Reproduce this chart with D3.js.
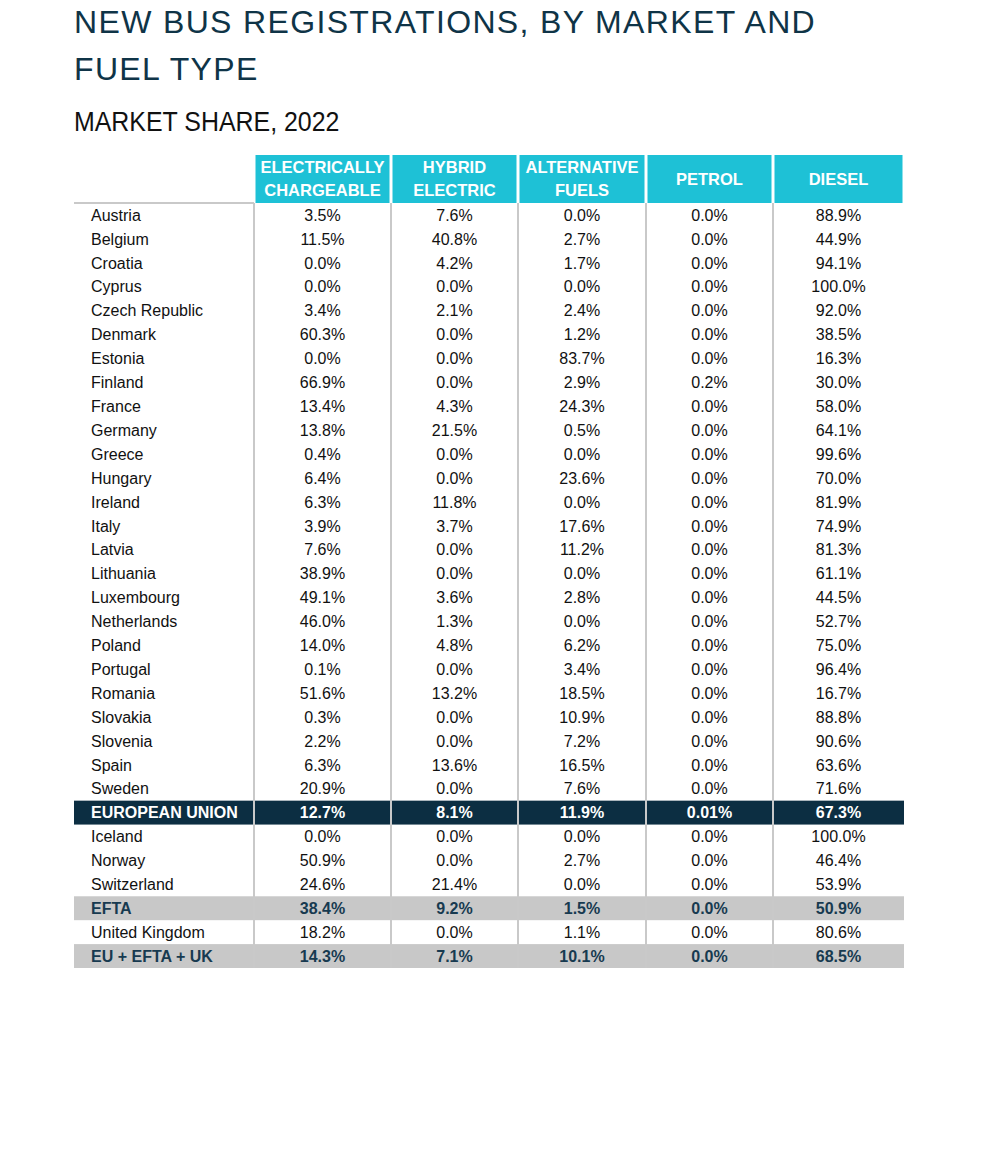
<!DOCTYPE html>
<html>
<head>
<meta charset="utf-8">
<script src="https://cdn.jsdelivr.net/npm/d3@7"></script>
<style>
  body { margin: 0; background: #fff; }
  svg { display: block; font-family: "Liberation Sans", Arial, sans-serif; }
</style>
</head>
<body>
<svg width="997" height="1167"></svg>
<script>
// table data (percent market share)
const markets = ["Austria", "Belgium", "Croatia", "Cyprus", "Czech Republic", "Denmark", "Estonia",
  "Finland", "France", "Germany", "Greece", "Hungary", "Ireland", "Italy", "Latvia", "Lithuania",
  "Luxembourg", "Netherlands", "Poland", "Portugal", "Romania", "Slovakia", "Slovenia", "Spain",
  "Sweden", "EUROPEAN UNION", "Iceland", "Norway", "Switzerland", "EFTA", "United Kingdom",
  "EU + EFTA + UK"];
const fuelHeaders = [["ELECTRICALLY", "CHARGEABLE"], ["HYBRID", "ELECTRIC"], ["ALTERNATIVE", "FUELS"],
  ["PETROL"], ["DIESEL"]];
const electric = [3.5, 11.5, 0.0, 0.0, 3.4, 60.3, 0.0, 66.9, 13.4, 13.8, 0.4, 6.4, 6.3, 3.9, 7.6, 38.9,
  49.1, 46.0, 14.0, 0.1, 51.6, 0.3, 2.2, 6.3, 20.9, 12.7, 0.0, 50.9, 24.6, 38.4, 18.2, 14.3];
const hybrid = [7.6, 40.8, 4.2, 0.0, 2.1, 0.0, 0.0, 0.0, 4.3, 21.5, 0.0, 0.0, 11.8, 3.7, 0.0, 0.0,
  3.6, 1.3, 4.8, 0.0, 13.2, 0.0, 0.0, 13.6, 0.0, 8.1, 0.0, 0.0, 21.4, 9.2, 0.0, 7.1];
const alternative = [0.0, 2.7, 1.7, 0.0, 2.4, 1.2, 83.7, 2.9, 24.3, 0.5, 0.0, 23.6, 0.0, 17.6, 11.2, 0.0,
  2.8, 0.0, 6.2, 3.4, 18.5, 10.9, 7.2, 16.5, 7.6, 11.9, 0.0, 2.7, 0.0, 1.5, 1.1, 10.1];
const petrol = [0.0, 0.0, 0.0, 0.0, 0.0, 0.0, 0.0, 0.2, 0.0, 0.0, 0.0, 0.0, 0.0, 0.0, 0.0, 0.0,
  0.0, 0.0, 0.0, 0.0, 0.0, 0.0, 0.0, 0.0, 0.0, 0.01, 0.0, 0.0, 0.0, 0.0, 0.0, 0.0];
const diesel = [88.9, 44.9, 94.1, 100.0, 92.0, 38.5, 16.3, 30.0, 58.0, 64.1, 99.6, 70.0, 81.9, 74.9, 81.3, 61.1,
  44.5, 52.7, 75.0, 96.4, 16.7, 88.8, 90.6, 63.6, 71.6, 67.3, 100.0, 46.4, 53.9, 50.9, 80.6, 68.5];
const darkTotals = ["EUROPEAN UNION"];
const greyTotals = ["EFTA", "EU + EFTA + UK"];

const series = [electric, hybrid, alternative, petrol, diesel];

const svg = d3.select("svg");
const navy = "#0c2e42", cyan = "#1ec1d6", grid = "#c9c9c9", greyRow = "#c8c8c8";

const tableLeft = 74, tableRight = 904, headTop = 155, headBottom = 203, tableBottom = 968;

// column edges are not all the same width, so map column index -> x
const xEdge = d3.scaleLinear().domain([0, 1, 2, 3, 4, 5]).range([254, 391, 518, 646, 773, 904]);
const y = d3.scaleBand().domain(markets).range([headBottom, tableBottom]);
const fmt = v => (v > 0 && v < 0.1 ? d3.format(".2f")(v) : d3.format(".1f")(v)) + "%";

// titles
svg.append("g").attr("fill", "#0f3447").style("font-size", "32px").style("letter-spacing", "1.35px")
  .selectAll("text").data(["NEW BUS REGISTRATIONS, BY MARKET AND", "FUEL TYPE"]).join("text")
  .attr("x", 74).attr("y", (d, i) => 33 + i * 47).text(d => d);

// no narrow face installed, so squeeze the regular one
svg.append("text").attr("transform", "translate(74,131) scale(0.89,1)")
  .style("font-size", "28px").attr("fill", "#111")
  .text("MARKET SHARE, 2022");

// header cells
const head = svg.append("g");
head.selectAll("rect").data(fuelHeaders).join("rect")
  .attr("x", (d, i) => xEdge(i) + 1.5)
  .attr("y", headTop)
  .attr("width", (d, i) => xEdge(i + 1) - xEdge(i) - 3)
  .attr("height", headBottom - headTop)
  .attr("fill", cyan);

head.selectAll("text").data(fuelHeaders).join("text")
  .attr("x", (d, i) => (xEdge(i) + xEdge(i + 1)) / 2)
  .attr("text-anchor", "middle")
  .attr("fill", "#fff").style("font-weight", "bold").style("font-size", "16.5px")
  .each(function(d) {
    const t = d3.select(this);
    const first = d.length === 1 ? 185 : 173;
    d.forEach((line, j) => t.append("tspan").attr("x", t.attr("x")).attr("y", first + j * 23).text(line));
  });

svg.append("line")
  .attr("x1", tableLeft).attr("x2", xEdge(0))
  .attr("y1", headBottom).attr("y2", headBottom)
  .attr("stroke", grid).attr("stroke-width", 2);

// total row backgrounds
svg.append("g").selectAll("rect")
  .data(markets.filter(m => darkTotals.includes(m) || greyTotals.includes(m)))
  .join("rect")
  .attr("x", tableLeft).attr("width", tableRight - tableLeft)
  .attr("y", d => y(d)).attr("height", y.bandwidth())
  .attr("fill", d => darkTotals.includes(d) ? navy : greyRow);

// column separators
svg.append("g").selectAll("line").data([0, 1, 2, 3, 4]).join("line")
  .attr("x1", d => xEdge(d)).attr("x2", d => xEdge(d))
  .attr("y1", headBottom).attr("y2", tableBottom)
  .attr("stroke", grid).attr("stroke-width", 2);

// rows
const rows = svg.append("g").selectAll("g").data(markets).join("g")
  .attr("transform", d => `translate(0,${y(d) + y.bandwidth() / 2})`)
  .style("font-size", "16px")
  .attr("fill", d => darkTotals.includes(d) ? "#fff" : greyTotals.includes(d) ? "#173a50" : "#111")
  .style("font-weight", d => darkTotals.includes(d) || greyTotals.includes(d) ? "bold" : "normal");

rows.append("text").attr("x", 91).attr("dy", "0.36em").text(d => d);

rows.selectAll("text.val")
  .data((d, r) => series.map((s, c) => ({ c, v: s[r] })))
  .join("text").attr("class", "val")
  .attr("x", d => (xEdge(d.c) + xEdge(d.c + 1)) / 2)
  .attr("dy", "0.36em")
  .attr("text-anchor", "middle")
  .text(d => fmt(d.v));
</script>
</body>
</html>
